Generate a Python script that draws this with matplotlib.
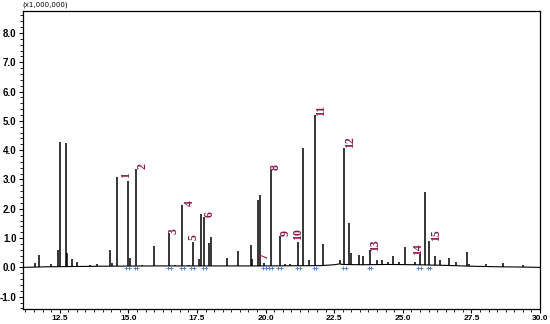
import numpy as np
import matplotlib.pyplot as plt
from matplotlib.ticker import MultipleLocator, FormatStrFormatter

plt.rcParams['axes.unicode_minus'] = False

# Picos do cromatograma (tempo de retenção em min, intensidade em x1.000.000)
peak_rt = [11.60, 11.75, 12.18, 12.45, 12.50, 12.73, 12.76, 12.95, 13.13, 13.45,
           13.59, 13.87, 14.34, 14.40, 14.57, 14.97, 15.07, 15.28, 15.50, 15.94,
           16.20, 16.49, 16.70, 16.97, 17.20, 17.35, 17.56, 17.66, 17.77, 17.94,
           18.00, 18.58, 19.01, 19.48, 19.52, 19.72, 19.79, 19.95, 20.19, 20.51,
           20.70, 20.90, 21.19, 21.38, 21.60, 21.80, 22.08, 22.70, 22.87, 23.05,
           23.10, 23.40, 23.55, 23.81, 24.05, 24.26, 24.47, 24.66, 24.85, 25.08,
           25.45, 25.62, 25.80, 25.96, 26.18, 26.35, 26.70, 26.95, 27.35, 27.40,
           28.04, 28.64, 29.39]
peak_h = [0.16, 0.42, 0.10, 0.60, 4.27, 4.25, 0.50, 0.28, 0.19, 0.06,
          0.08, 0.13, 0.58, 0.15, 3.09, 2.96, 0.33, 3.35, 0.08, 0.74,
          0.06, 1.17, 0.07, 2.14, 0.08, 0.86, 0.29, 1.81, 1.73, 0.84,
          1.03, 0.32, 0.55, 0.75, 0.30, 2.30, 2.46, 0.15, 3.31, 1.08,
          0.10, 0.10, 0.85, 4.08, 0.25, 5.21, 0.81, 0.26, 4.08, 1.52,
          0.49, 0.41, 0.38, 0.59, 0.25, 0.25, 0.20, 0.40, 0.20, 0.70,
          0.20, 0.45, 2.56, 0.90, 0.40, 0.25, 0.33, 0.20, 0.52, 0.12,
          0.10, 0.16, 0.07]

# Linha de base
base_rt = [11.15, 12.0, 14.0, 16.0, 18.0, 20.0, 22.0, 22.5, 22.7, 22.8, 23.5,
           24.5, 25.5, 26.5, 27.5, 28.5, 29.5, 30.0]
base_h = [0.0, 0.02, 0.04, 0.05, 0.05, 0.05, 0.06, 0.09, 0.12, 0.10, 0.09,
          0.10, 0.09, 0.07, 0.04, 0.02, 0.01, 0.0]

# Compostos identificados
label_names = ['1', '2', '3', '4', '5', '6', '7', '8', '9', '10',
               '11', '12', '13', '14', '15']
label_rt = [14.97, 15.28, 16.49, 16.97, 17.35, 17.77, 19.95, 20.19, 20.51, 21.19,
            21.80, 22.87, 23.81, 25.62, 25.96]
# posição do texto (x, y)
label_pos = [(14.92, 3.15), (15.50, 3.46), (16.65, 1.25), (17.23, 2.20),
             (17.37, 1.03), (17.97, 1.81), (19.94, 0.39), (20.37, 3.41),
             (20.72, 1.16), (21.19, 1.14), (22.03, 5.37), (23.07, 4.28),
             (24.00, 0.76), (25.56, 0.62), (26.20, 1.10)]

fig = plt.figure(figsize=(5.5, 3.24), dpi=100)
ax = fig.add_axes([0.0413, 0.0463, 0.9405, 0.9207])

peak_base = np.interp(peak_rt, base_rt, base_h)
ax.plot(base_rt, base_h, color='black', lw=0.8)
ax.vlines(peak_rt, peak_base, peak_h, color='black', lw=1.1)

# marcas de integração
lr = np.array(label_rt)
ax.plot(np.concatenate([lr - 0.05, lr + 0.05]), np.full(2 * len(lr), -0.01),
        '+', color='#4a7cc8', ms=3, mew=0.6)

for name, (tx, ty) in zip(label_names, label_pos):
    ax.text(tx, ty, name, rotation=90, ha='center', va='center',
            fontsize=8.5, family='Liberation Serif', fontweight='bold',
            color='#8b1a4a')

ax.set_xlim(11.15, 30.0)
ax.set_ylim(-1.42, 8.76)
ax.xaxis.set_major_locator(MultipleLocator(2.5))
ax.xaxis.set_minor_locator(MultipleLocator(2.5 / 8))
ax.yaxis.set_major_locator(MultipleLocator(1.0))
ax.yaxis.set_minor_locator(MultipleLocator(0.2))
ax.xaxis.set_major_formatter(FormatStrFormatter('%.1f'))
ax.yaxis.set_major_formatter(FormatStrFormatter('%.1f'))
ax.tick_params(which='major', direction='out', length=3, width=0.8, pad=1.5)
ax.tick_params(which='minor', direction='out', length=2, width=0.6)
for lab in ax.get_xticklabels():
    lab.set_fontsize(6)
    lab.set_fontweight('bold')
    lab.set_family('Liberation Sans')
for lab in ax.get_yticklabels():
    lab.set_fontsize(7)
    lab.set_fontweight('bold')
    lab.set_family('Liberation Sans')
for s in ax.spines.values():
    s.set_linewidth(0.9)

fig.text(0.0413, 0.985, '(x1,000,000)', fontsize=5, ha='left', va='center')

fig.savefig('out.png', dpi=100)
